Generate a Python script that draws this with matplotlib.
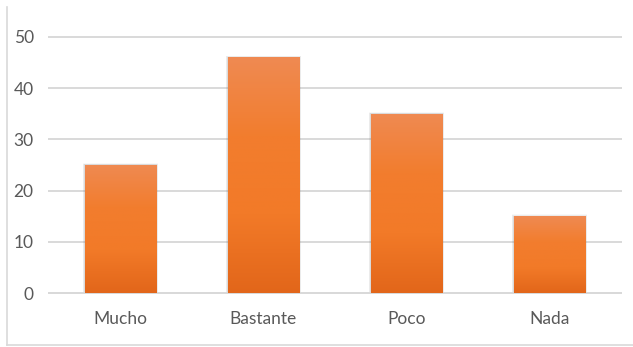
import numpy as np
import matplotlib
matplotlib.use('Agg')
import matplotlib.pyplot as plt
from matplotlib.colors import LinearSegmentedColormap
from matplotlib.patches import Rectangle

#---- Data -------------------------------------------------------------------#

categories = ['Mucho', 'Bastante', 'Poco', 'Nada']
values = [25, 46, 35, 15]
yticks = [0, 10, 20, 30, 40, 50]

#---- Style ------------------------------------------------------------------#

plt.rcParams['font.family'] = ['Lato', 'DejaVu Sans']
text_col = '#595959'
grid_col = '#D9D9D9'
# Orange fill, lighter at the top, darker at the bottom
orange = LinearSegmentedColormap.from_list(
    'orange', ['#E2661A', '#F27A28', '#F27D2E', '#EF8A52'])

#---- Plotting ---------------------------------------------------------------#

fig = plt.figure(figsize=(6.33, 3.47), dpi=100)
ax = fig.add_axes([0.0774, 0.1556, 0.9036, 0.7378])

x = np.arange(len(categories))
width = 0.5

# Soft grey shadow round each bar
for xi, v in zip(x, values):
    for k, a in enumerate([0.16, 0.10, 0.05]):
        d = 0.005 * (k + 1)
        ax.add_patch(Rectangle((xi - width / 2 - d, 0), width + 2 * d,
                               v + 0.12 * (k + 1), color='#7f7f7f',
                               alpha=a, lw=0, zorder=2))

bars = ax.bar(x, values, width=width, color='none', edgecolor='none', zorder=3)

# Vertical gradient inside each bar
grad = np.linspace(0, 1, 256).reshape(-1, 1)
for b in bars:
    x0, y0 = b.get_x(), b.get_y()
    w, h = b.get_width(), b.get_height()
    im = ax.imshow(grad, cmap=orange, origin='lower', aspect='auto',
                   extent=[x0, x0 + w, y0, y0 + h], zorder=3)
    im.set_clip_path(b)

ax.set_xlim(-0.5, len(categories) - 0.5)
ax.set_ylim(0, 50)
ax.set_yticks(yticks)
ax.set_xticks(x)
ax.set_xticklabels(categories)

ax.grid(axis='y', color=grid_col, lw=1.4, zorder=0)
for gl in ax.yaxis.get_gridlines():
    gl.set_clip_on(False)
ax.set_axisbelow(True)
for s in ['top', 'right', 'left']:
    ax.spines[s].set_visible(False)
ax.spines['bottom'].set_color(grid_col)
ax.spines['bottom'].set_linewidth(1.4)
ax.tick_params(axis='both', length=0, colors=text_col, labelsize=12.5)
ax.tick_params(axis='y', pad=11)
ax.tick_params(axis='x', pad=13)

# Chart area frame (left and bottom edges)
fig.add_artist(plt.Line2D([0.011, 0.011], [0.006, 0.98], color=grid_col,
                          lw=1.2, transform=fig.transFigure))
fig.add_artist(plt.Line2D([0.011, 1.0], [0.006, 0.006], color=grid_col,
                          lw=1.2, transform=fig.transFigure))

plt.savefig('out.png', dpi=100)
